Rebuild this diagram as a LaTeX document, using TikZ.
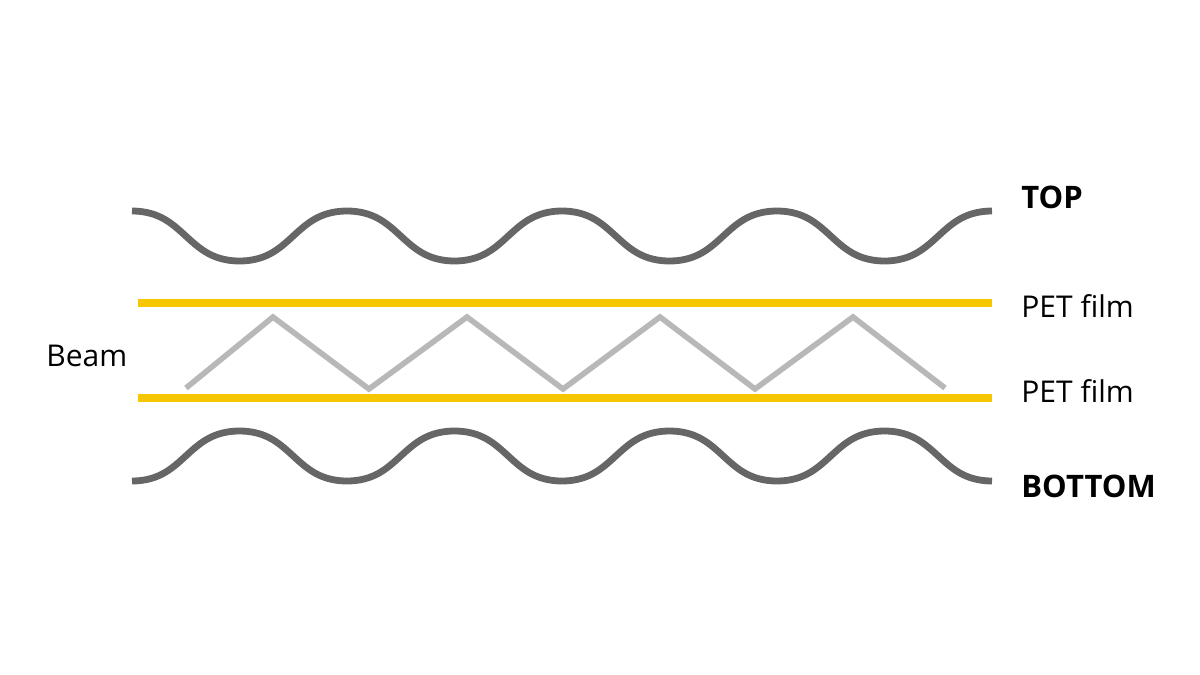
\documentclass[tikz,border=0pt]{standalone}
\usepackage{fontspec}
\setmainfont{Open Sans}
\definecolor{wavegray}{HTML}{666666}
\definecolor{beamgray}{HTML}{B8B8B8}
\definecolor{petyellow}{HTML}{F6C700}
\begin{document}
\begin{tikzpicture}[x=0.5pt,y=-0.5pt,
  wave/.style={draw=wavegray,line width=3.4pt},
  film/.style={draw=petyellow,line width=3.6pt},
  beamline/.style={draw=beamgray,line width=2.8pt,line join=miter},
  lbl/.style={anchor=base west,inner sep=0pt,font=\fontsize{15}{17}\selectfont},
  blbl/.style={anchor=base west,inner sep=0pt,font=\fontsize{15.5}{18}\selectfont\bfseries}]
\path[use as bounding box] (0,0) rectangle (1200,675);
% corrugated layers
\draw[wave] plot[domain=132:992,samples=300] (\x,{236-25*tanh(0.9*cos(1.67442*(\x-132)))/tanh(0.9)});
\draw[wave] plot[domain=132:992,samples=300] (\x,{456+25*tanh(0.9*cos(1.67442*(\x-132)))/tanh(0.9)});
% PET films
\coordinate (f1a) at (138,303);
\coordinate (f1b) at (992,303);
\coordinate (f2a) at (138,398);
\coordinate (f2b) at (992,398);
\draw[film] (f1a) -- (f1b);
\draw[film] (f2a) -- (f2b);
% beam zigzag
\draw[beamline] (186,388) -- (273,317) -- (369,389) -- (467,317) -- (563,389) -- (660,317) -- (755,389) -- (853,317) -- (945,388);
% labels
\node[blbl] (top) at (1021,208) {TOP};
\node[lbl] (pet1) at (1021,317) {PET film};
\node[lbl] (pet2) at (1021,402) {PET film};
\node[blbl] (bottom) at (1021,497) {BOTTOM};
\node[lbl] (beam) at (46,366) {Beam};
\end{tikzpicture}
\end{document}
